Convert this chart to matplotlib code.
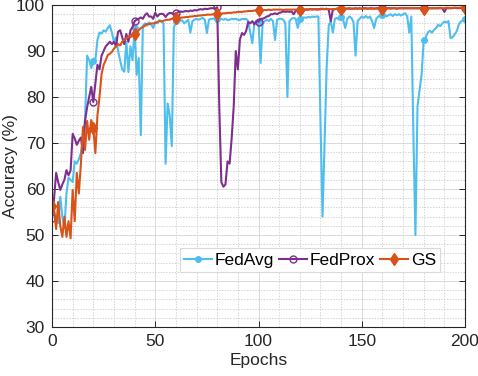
import matplotlib

matplotlib.use("Agg")

import matplotlib.pyplot as plt
import numpy as np
from matplotlib.ticker import MultipleLocator

epochs = list(range(201))

fedavg = [
    56.0, 55.0, 53.5, 52.6, 58.3, 54.0, 51.5, 59.0, 62.5, 62.0,
    61.5, 66.0, 65.5, 66.5, 67.8, 70.7, 75.0, 89.0, 88.0, 86.3,
    87.8, 88.0, 92.4, 94.0, 93.8, 94.5, 94.2, 95.0, 95.6, 94.0,
    92.0, 93.0, 90.0, 88.0, 86.0, 85.5, 92.0, 85.4, 91.0, 88.0,
    95.0, 84.8, 88.5, 71.7, 95.5, 96.0, 95.5, 96.2, 95.8, 95.0,
    96.3, 96.0, 96.7, 96.5, 96.0, 65.5, 78.6, 76.0, 69.3, 95.0,
    96.5, 97.0, 96.5, 96.7, 96.0, 96.4, 96.8, 94.0, 96.5, 96.8,
    97.0, 96.8, 97.0, 97.2, 96.8, 93.9, 96.8, 97.0, 97.0, 97.1,
    97.0, 97.0, 97.0, 96.8, 97.0, 96.7, 96.8, 97.0, 96.9, 97.0,
    96.8, 96.7, 97.0, 96.9, 97.0, 96.5, 94.0, 91.7, 96.0, 96.5,
    96.2, 87.4, 96.0, 96.5, 96.8, 96.5, 97.0, 96.5, 92.4, 96.8,
    97.0, 97.0, 96.8, 96.0, 80.0, 96.5, 97.0, 97.2, 97.0, 95.0,
    97.0, 97.2, 97.3, 97.2, 97.4, 97.3, 97.5, 97.4, 97.5, 97.5,
    75.0, 54.0, 70.0, 86.5, 95.5, 96.5, 94.0, 97.0, 97.2, 96.8,
    97.4, 96.8, 95.0, 97.0, 97.5, 97.2, 96.3, 89.0, 96.5, 97.0,
    97.5, 97.2, 97.6, 97.2, 97.5, 96.5, 95.0, 97.0, 97.5, 97.6,
    97.8, 97.8, 97.5, 97.8, 98.0, 97.6, 98.0, 97.8, 98.0, 97.7,
    98.0, 98.2, 97.6, 94.0, 97.5, 72.0, 50.0, 78.0, 81.5, 85.0,
    92.4, 93.0, 94.0, 94.4, 94.0, 94.6, 95.0, 95.7, 95.4, 96.0,
    96.4, 96.2, 96.5, 92.8, 93.0, 93.6, 94.3, 95.8, 96.4, 96.6,
    97.0,
]

fedprox = [
    53.7, 58.0, 63.5, 61.5, 59.8, 61.0, 62.0, 64.1, 63.0, 64.0,
    72.0, 71.0, 69.6, 70.5, 71.2, 67.8, 74.8, 77.8, 80.0, 82.2,
    78.9, 83.0, 87.0, 86.0, 89.0, 90.0, 91.0, 91.5, 92.0, 91.5,
    92.0, 91.0, 94.2, 94.5, 93.0, 91.5, 93.7, 92.0, 94.5, 95.2,
    96.5, 96.8, 97.0, 97.3, 97.0, 97.8, 98.2, 97.5, 97.5, 97.0,
    98.3, 97.5, 98.0, 98.1, 98.0, 97.4, 98.0, 98.3, 98.2, 98.0,
    98.2, 98.4, 98.6, 98.5, 98.6, 98.7, 98.6, 98.8, 98.7, 98.9,
    98.8, 99.0, 99.1, 99.0, 99.2, 99.1, 99.2, 99.3, 99.3, 99.2,
    99.5, 78.0, 61.5, 60.5, 61.0, 66.0, 65.5, 71.0, 78.0, 90.0,
    86.0, 92.5, 93.9, 93.5, 94.3, 96.3, 96.0, 96.5, 95.8, 96.5,
    96.4, 97.0, 97.0, 97.2, 97.5, 97.6, 98.0, 98.0, 98.2, 98.0,
    98.3, 98.4, 98.6, 98.5, 98.6, 98.5, 98.6, 98.0, 98.7, 98.9,
    98.9, 99.0, 98.9, 99.0, 99.0, 99.1, 99.0, 99.1, 99.0, 99.1,
    99.1, 99.2, 99.1, 99.2, 99.0, 96.5, 99.0, 99.1, 99.2, 99.2,
    99.2, 99.1, 99.2, 99.2, 99.3, 99.2, 99.2, 99.3, 99.2, 99.3,
    99.2, 99.3, 99.3, 99.2, 99.3, 99.3, 99.2, 99.3, 99.3, 99.3,
    99.3, 99.2, 99.3, 99.3, 99.3, 99.3, 99.3, 99.2, 99.3, 99.3,
    99.3, 99.3, 99.3, 99.3, 99.3, 99.3, 99.3, 99.3, 99.3, 99.3,
    99.3, 99.3, 99.3, 99.3, 99.3, 99.3, 99.3, 99.3, 99.3, 99.3,
    98.5, 99.3, 99.3, 99.3, 99.3, 99.4, 99.3, 99.3, 99.4, 99.4,
    99.4,
]

gs = [
    56.3, 55.5, 51.3, 57.2, 52.0, 49.6, 54.0, 49.6, 53.0, 49.3,
    59.8, 53.0, 63.5, 59.0, 65.6, 73.5, 68.5, 74.8, 70.7, 75.0,
    73.3, 67.8, 76.0, 80.0, 85.0, 87.0, 88.0, 89.1, 89.4, 89.8,
    90.5, 91.0, 91.5, 91.2, 92.0, 92.4, 92.8, 93.1, 93.0, 93.4,
    93.8, 94.1, 94.5, 95.0, 95.2, 95.5, 95.9, 95.8, 96.0, 96.0,
    96.1, 96.3, 96.5, 96.4, 96.6, 96.7, 96.8, 96.8, 97.0, 97.0,
    97.1, 97.2, 97.2, 97.3, 97.3, 97.4, 97.4, 97.5, 97.5, 97.6,
    97.6, 97.7, 97.7, 97.8, 97.8, 97.9, 97.9, 97.9, 98.0, 98.0,
    98.0, 98.1, 98.1, 98.2, 98.2, 98.3, 98.3, 98.3, 98.4, 98.4,
    98.5, 98.5, 98.5, 98.6, 98.6, 98.7, 98.7, 98.7, 98.8, 98.8,
    98.9, 98.9, 98.9, 98.9, 98.9, 99.0, 98.9, 99.0, 99.0, 99.0,
    99.0, 99.0, 98.9, 99.0, 99.0, 99.0, 99.0, 99.0, 99.0, 99.0,
    99.0, 99.0, 99.0, 99.1, 99.0, 99.1, 99.1, 99.1, 99.1, 99.0,
    99.1, 99.1, 99.1, 99.1, 99.1, 99.1, 99.1, 99.1, 99.2, 99.1,
    99.1, 99.1, 99.2, 99.2, 99.2, 99.2, 99.2, 99.2, 99.2, 99.2,
    99.2, 99.2, 99.2, 99.2, 99.2, 99.2, 99.2, 99.2, 99.2, 99.2,
    99.2, 99.2, 99.2, 99.3, 99.2, 99.3, 99.3, 99.2, 99.3, 99.3,
    99.3, 99.3, 99.3, 99.3, 99.3, 99.3, 99.3, 99.3, 99.3, 99.3,
    99.2, 99.3, 99.3, 99.3, 99.3, 99.3, 99.3, 99.3, 99.4, 99.3,
    99.3, 99.4, 99.4, 99.3, 99.4, 99.4, 99.4, 99.4, 99.4, 99.4,
    99.4,
]

assert len(fedavg) == len(fedprox) == len(gs) == len(epochs)

plt.rcParams["font.family"] = ["Liberation Sans", "DejaVu Sans"]

fig = plt.figure(figsize=(4.78, 3.76), dpi=100)
ax = fig.add_axes([0.1088, 0.1303, 0.864, 0.8564])

ax.plot(epochs, fedavg, color="#4DBEEE", lw=1.5, marker=".", ms=8,
        markevery=20, label="FedAvg")
ax.plot(epochs, fedprox, color="#7E2F8E", lw=1.5, marker="o", ms=5,
        mfc="none", mew=1.0, markevery=20, label="FedProx")
ax.plot(epochs, gs, color="#D95319", lw=1.5, marker="d", ms=6,
        markevery=20, label="GS")

ax.set_xlim(0, 200)
ax.set_ylim(30, 100)
ax.xaxis.set_major_locator(MultipleLocator(50))
ax.xaxis.set_minor_locator(MultipleLocator(10))
ax.yaxis.set_major_locator(MultipleLocator(10))
ax.yaxis.set_minor_locator(MultipleLocator(2))

ax.grid(True, which="major", color="#d4d4d4", lw=0.6, ls="-")
ax.grid(True, which="minor", color="#c4c4c4", lw=0.5, ls=(0, (2, 2)))
ax.set_axisbelow(True)

ax.tick_params(which="major", direction="in", length=4, width=0.7,
               top=True, right=True, labelsize=12.5, colors="#262626",
               pad=5)
ax.tick_params(which="minor", length=0, top=True, right=True)
for spine in ax.spines.values():
    spine.set_color("#262626")
    spine.set_linewidth(0.8)

ax.set_xlabel("Epochs", fontsize=12.5, color="#262626")
ax.set_ylabel("Accuracy (%)", fontsize=12.5, color="#262626")
ax.xaxis.set_label_coords(0.5, -0.082)
ax.yaxis.set_label_coords(-0.083, 0.5)

leg = ax.legend(loc="lower right", bbox_to_anchor=(0.94, 0.17), ncol=3,
                fontsize=12.5, handlelength=1.6, handletextpad=0.15,
                columnspacing=0.3, borderpad=0.25, borderaxespad=0,
                fancybox=False, framealpha=1.0)
leg.get_frame().set_edgecolor("#d9d9d9")
leg.get_frame().set_linewidth(0.8)

fig.savefig("out.png", dpi=100)
